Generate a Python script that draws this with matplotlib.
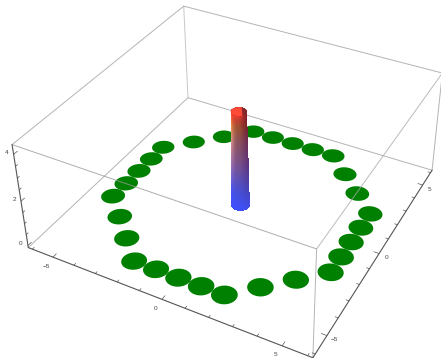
import numpy as np
import matplotlib
matplotlib.use('Agg')
import matplotlib.pyplot as plt
from matplotlib.patches import Polygon

plt.rcParams['font.family']=['Liberation Sans','DejaVu Sans']

# ring of spots on the floor
ring_x=[-2,-1,0,1,2,3,4,5,5,5,5,5,4,3,2,1,0,-1,-2,-3,-4,-5,-5,-5,-5,-5,-4,-3]
ring_y=[-5,-5,-5,-5,-5,-4,-3,-2,-1,0,1,2,3,4,5,5,5,5,5,4,3,2,1,0,-1,-2,-3,-4]
spot_r=0.5

# the spike in the middle
spike_z=[0,1,2,3,4,4.2]
spike_r=[0.39,0.38,0.36,0.34,0.32,0.32]

xy_ticks=[-5,0,5]
z_ticks=[0,2,4]

lim=6.2
zmin,zmax=-0.1,4.4

# camera, fitted on where the box corners are in the picture
box=[(-lim,-lim,zmin,28,247),(lim,-lim,zmin,312,357),(lim,lim,zmin,433,171),(-lim,lim,zmin,188,98),
     (-lim,-lim,zmax,12,145),(lim,-lim,zmax,318,250),(lim,lim,zmax,441,72),(-lim,lim,zmax,184,6)]
A=[];b=[]
for X,Y,Z,u,v in box:
    A.append([X,Y,Z,1,0,0,0,0,-u*X,-u*Y,-u*Z]);b.append(u)
    A.append([0,0,0,0,X,Y,Z,1,-v*X,-v*Y,-v*Z]);b.append(v)
p=np.linalg.lstsq(np.array(A,float),np.array(b,float),rcond=None)[0]
P=np.append(p,1).reshape(3,4)

def proj(x,y,z):
    x,y,z=np.asarray(x,float),np.asarray(y,float),np.asarray(z,float)
    w=P[2,0]*x+P[2,1]*y+P[2,2]*z+P[2,3]
    return (P[0,0]*x+P[0,1]*y+P[0,2]*z+P[0,3])/w,(P[1,0]*x+P[1,1]*y+P[1,2]*z+P[1,3])/w

fig=plt.figure(figsize=(4.41,3.58),dpi=100)
ax=fig.add_axes([0,0,1,1])
ax.set_xlim(0,441)
ax.set_ylim(358,0)
ax.axis('off')

def edge(a,b,color='#b4b4b4',lw=0.7,z=1,alpha=1):
    u,v=proj([a[0],b[0]],[a[1],b[1]],[a[2],b[2]])
    ax.plot(u,v,color=color,lw=lw,zorder=z,alpha=alpha,solid_capstyle='round')

L=lim
# back edges, behind everything
edge((-L,-L,zmin),(-L,L,zmin))
edge((-L,L,zmin),(L,L,zmin))
edge((-L,L,zmin),(-L,L,zmax),color='#c8c8c8')
edge((-L,L,zmax),(L,L,zmax))
edge((-L,L,zmax),(-L,-L,zmax))
# front edges, seen over the spots
edge((-L,-L,zmax),(L,-L,zmax),color='#999999',z=5,alpha=0.8)
edge((L,-L,zmax),(L,L,zmax),color='#aaaaaa',z=5,alpha=0.8)
edge((L,-L,zmin),(L,-L,zmax),z=5)
edge((L,L,zmin),(L,L,zmax),z=5)
# the three axes
dark='#555555'
edge((-L,-L,zmin),(L,-L,zmin),color=dark,lw=0.8,z=6)
edge((L,-L,zmin),(L,L,zmin),color=dark,lw=0.8,z=6)
edge((-L,-L,zmin),(-L,-L,zmax),color=dark,lw=0.8,z=6)

# spots
th=np.linspace(0,2*np.pi,60)
for x,y in zip(ring_x,ring_y):
    u,v=proj(x+spot_r*np.cos(th),y+spot_r*np.sin(th),0*th)
    ax.add_patch(Polygon(np.c_[u,v],closed=True,fc='#008000',ec='none',zorder=2))

# spike, colours by height for left, middle and right of the visible side
hs=[0,0.2,0.5,0.75,0.88,0.95,1]
left=np.array([[60,80,255],[75,85,245],[175,120,180],[235,160,135],[255,150,75],[255,100,60],[255,70,50]])/255
mid=np.array([[60,80,255],[70,78,215],[118,80,140],[140,82,90],[155,82,50],[185,65,50],[240,60,45]])/255
right=np.array([[65,78,235],[70,65,180],[95,50,120],[110,40,75],[120,30,40],[125,30,40],[130,30,40]])/255

zz=np.linspace(0,spike_z[-1],90)
rr=np.interp(zz,spike_z,spike_r)
tt=np.linspace(0,2*np.pi,73)
Z,T=np.meshgrid(zz,tt,indexing='ij')
R=np.repeat(rr[:,None],len(tt),axis=1)
U,V=proj(R*np.cos(T),R*np.sin(T),Z)
uc,vc=proj(0*zz,0*zz,zz)
S=(U-uc[:,None])/(U.max(axis=1,keepdims=True)-uc[:,None])
zc=0.5*(Z[:-1,:-1]+Z[1:,1:])
sc=0.5*(S[:-1,:-1]+S[1:,1:])
h=zc/spike_z[-1]
cols=np.zeros(h.shape+(3,))
for k in range(3):
    cl=np.interp(h,hs,left[:,k])
    cm_=np.interp(h,hs,mid[:,k])
    cr=np.interp(h,hs,right[:,k])
    # the pale side is a narrow band at the left rim
    cols[...,k]=np.where(sc<0,cm_+(cl-cm_)*np.abs(sc)**2.5,cm_+(cr-cm_)*sc)
# only the half turned to the camera: lower on the screen than the axis
front=np.where(V[0]>vc[0])[0]
i0,i1=front.min(),front.max()+1
ax.pcolormesh(U[:,i0:i1],V[:,i0:i1],cols[:,i0:i1-1],shading='flat',zorder=3,antialiased=False)
# flat top of the spike, dark on its far right
u,v=proj(rr[-1]*np.cos(th),rr[-1]*np.sin(th),zz[-1]+0*th)
ax.add_patch(Polygon(np.c_[u,v],closed=True,fc='#84282a',ec='none',zorder=4))
keep=u<uc[-1]+3.5
ax.add_patch(Polygon(np.c_[u[keep],v[keep]],closed=True,fc='#ff4a38',ec='none',zorder=4))

# ticks and their numbers
for a in np.arange(-6,7,1):
    m=a in xy_ticks
    ln=0.22 if m else 0.12
    edge((a,-L,zmin),(a,-L+ln,zmin),color=dark,lw=0.5,z=6)
    edge((L,a,zmin),(L-ln,a,zmin),color=dark,lw=0.5,z=6)
for a in np.arange(0,4.5,0.5):
    m=a in z_ticks
    ln=0.22 if m else 0.12
    edge((-L,-L,a),(-L,-L+ln,a),color=dark,lw=0.5,z=6)

fs=4.6
for a in xy_ticks:
    u,v=proj(a,-L,zmin)
    ax.text(u-6.5,v+9,str(a).replace('-','\u2212'),fontsize=fs,color='#444444',ha='center',va='center')
    u,v=proj(L,a,zmin)
    ax.text(u+7,v+4,str(a).replace('-','\u2212'),fontsize=fs,color='#444444',ha='center',va='center')
for a in z_ticks:
    u,v=proj(-L,-L,a)
    ax.text(u-7,v-2,str(a),fontsize=fs,color='#444444',ha='center',va='center')

fig.savefig('out.png',dpi=100)
